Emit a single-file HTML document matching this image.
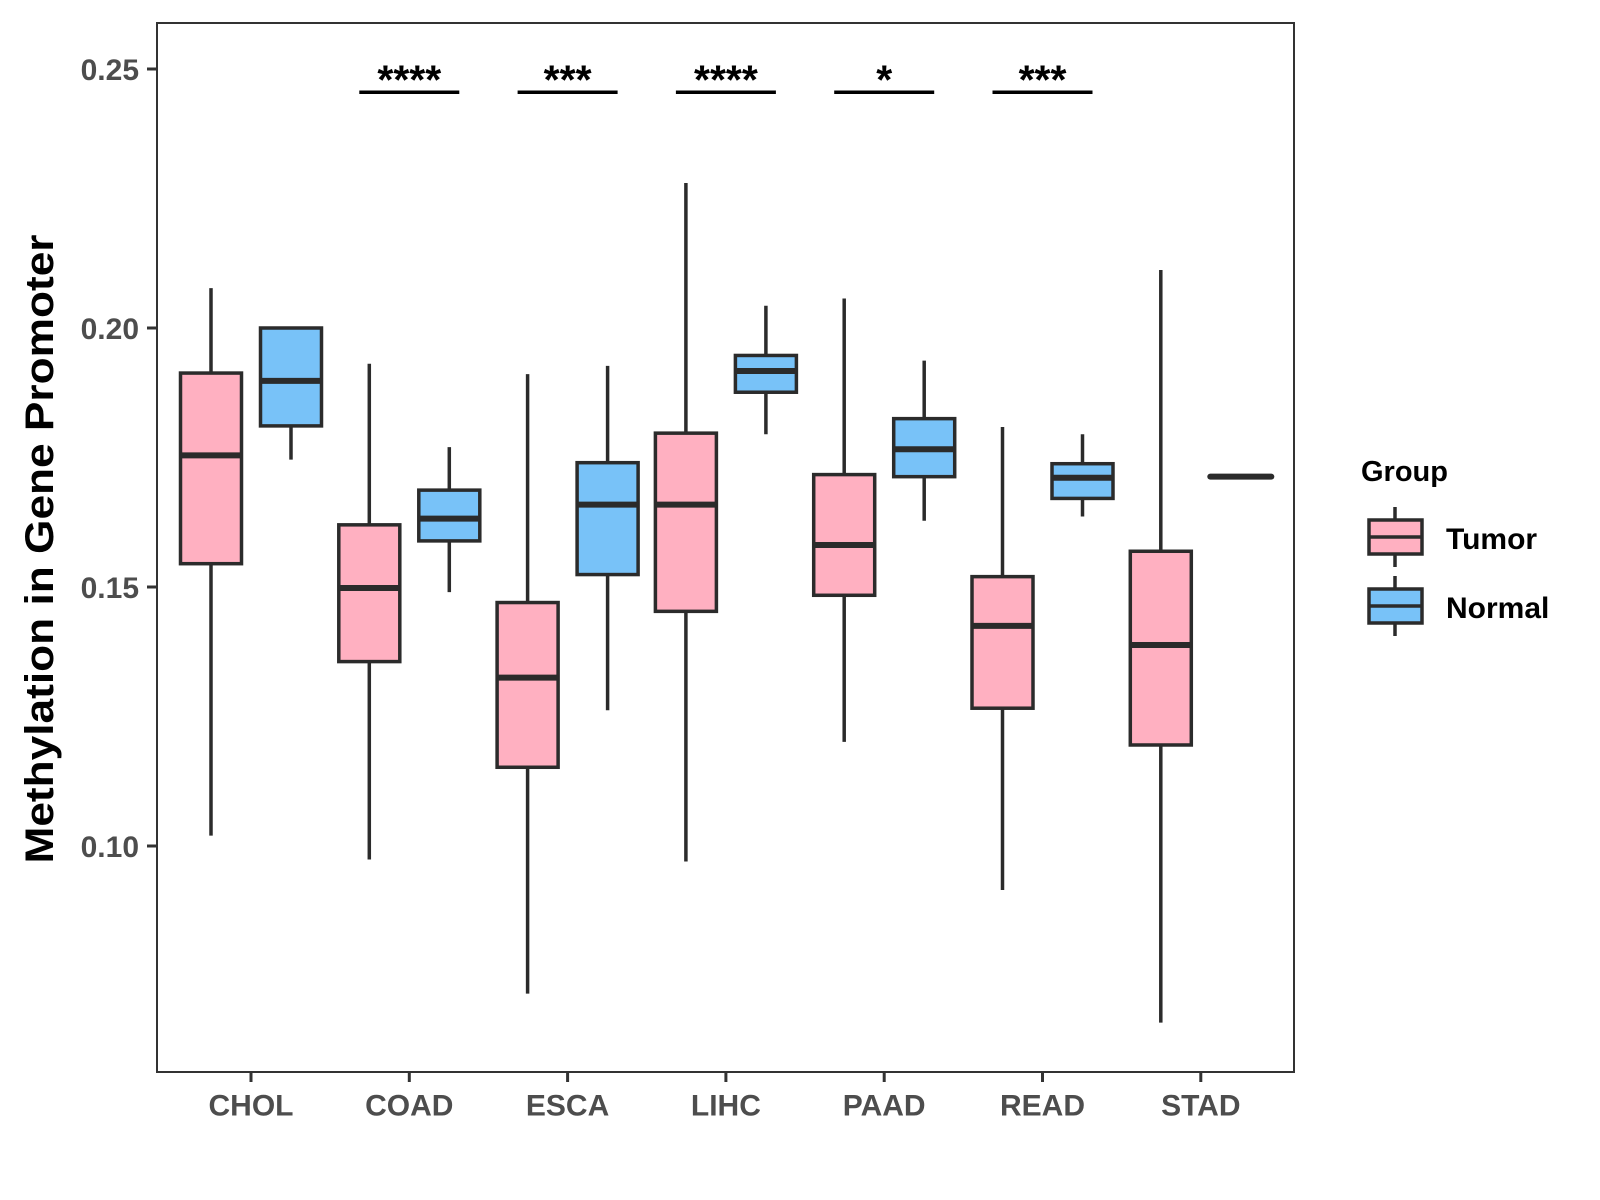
<!DOCTYPE html>
<html><head><meta charset="utf-8"><style>
html,body{margin:0;padding:0;background:#fff;}
svg{display:block;font-family:"Liberation Sans",Arial,sans-serif;font-weight:bold;}
</style></head><body>
<svg id="chart" width="1600" height="1200" viewBox="0 0 1600 1200">
<rect x="157" y="23" width="1137" height="1049" fill="#fff" stroke="#333" stroke-width="2"/>
<g id="marks"></g>
<g id="axes"></g>
<text x="39" y="549" transform="rotate(-90 39 549)" text-anchor="middle" font-size="40" textLength="629" lengthAdjust="spacingAndGlyphs" fill="#000" dy="14">Methylation in Gene Promoter</text>
<g>
<text x="1361" y="481" font-size="29" fill="#000">Group</text>
<g>
<line x1="1395" y1="507" x2="1395" y2="567" stroke="#2b2b2b" stroke-width="3.5"/>
<rect x="1369" y="520" width="53" height="34" fill="#FFB0C1" stroke="#2b2b2b" stroke-width="3.5"/>
<line x1="1369" y1="537" x2="1422" y2="537" stroke="#2b2b2b" stroke-width="3.5"/>
<text x="1446" y="549" font-size="30" fill="#000">Tumor</text>
</g>
<g>
<line x1="1395" y1="576" x2="1395" y2="636" stroke="#2b2b2b" stroke-width="3.5"/>
<rect x="1369" y="589" width="53" height="34" fill="#78C2F8" stroke="#2b2b2b" stroke-width="3.5"/>
<line x1="1369" y1="606" x2="1422" y2="606" stroke="#2b2b2b" stroke-width="3.5"/>
<text x="1446" y="618" font-size="30" fill="#000">Normal</text>
</g>
</g>
</svg>
<script>
const categories=["CHOL","COAD","ESCA","LIHC","PAAD","READ","STAD"];
// [low, q1, median, q3, high]
const tumorStats=[
[0.1020,0.1545,0.1754,0.1913,0.2077],
[0.0974,0.1356,0.1498,0.1620,0.1931],
[0.0715,0.1152,0.1325,0.1470,0.1911],
[0.0970,0.1453,0.1659,0.1797,0.2280],
[0.1201,0.1484,0.1581,0.1717,0.2057],
[0.0915,0.1266,0.1425,0.1520,0.1809],
[0.0659,0.1195,0.1388,0.1569,0.2112]];
const normalStats=[
[0.1746,0.1811,0.1898,0.2000,0.2002],
[0.1490,0.1589,0.1632,0.1687,0.1770],
[0.1262,0.1524,0.1659,0.1740,0.1927],
[0.1795,0.1876,0.1917,0.1947,0.2043],
[0.1628,0.1713,0.1766,0.1825,0.1937],
[0.1636,0.1671,0.1711,0.1738,0.1795],
[0.1713,0.1713,0.1713,0.1713,0.1713]];
const sigLabels=["","****","***","****","*","***",""];
const sigLevel=0.2455;
const yTicks=[0.10,0.15,0.20,0.25];
const yTickLabels=["0.10","0.15","0.20","0.25"];

const NS="http://www.w3.org/2000/svg";
function y(v){return 69+(0.25-v)*5180;}
function x(i){return 251+i*158.3;}
function mk(tag,attrs,parent){const e=document.createElementNS(NS,tag);for(const k in attrs)e.setAttribute(k,attrs[k]);parent.appendChild(e);return e;}
const marks=document.getElementById('marks'),axes=document.getElementById('axes');
const col="#2b2b2b",bw=61;
function drawBox(s,cx,fill,name){
  const g=mk('g',{},marks);
  
  
  mk('line',{x1:cx,x2:cx,y1:y(s[4]),y2:y(s[0]),stroke:col,'stroke-width':3.5},g);
  const h=Math.max(y(s[1])-y(s[3]),0);
  if(h>0.5) mk('rect',{x:cx-bw/2,y:y(s[3]),width:bw,height:h,fill:fill,stroke:col,'stroke-width':3.5},g);
  mk('line',{x1:cx-bw/2,x2:cx+bw/2,y1:y(s[2]),y2:y(s[2]),stroke:col,'stroke-width':6,'stroke-linecap':h>0.5?'butt':'round'},g);
}
categories.forEach((c,i)=>{
  drawBox(tumorStats[i],x(i)-40,"#FFB0C1",'box-tumor-'+c.toLowerCase());
  drawBox(normalStats[i],x(i)+40,"#78C2F8",'box-normal-'+c.toLowerCase());
  const t=mk('line',{x1:x(i),x2:x(i),y1:1072,y2:1082,stroke:'#333','stroke-width':3},axes);
  
  
  const l=mk('text',{x:x(i),y:1094,'text-anchor':'middle','font-size':30,fill:'#4d4d4d'},axes);
  
  
  l.textContent=c;
  l.setAttribute('dy','0.72em');
  if(sigLabels[i]){
    const b=mk('line',{x1:x(i)-50,x2:x(i)+50,y1:y(sigLevel),y2:y(sigLevel),stroke:'#000','stroke-width':3.5},marks);
    
    
    const s=mk('text',{x:x(i),y:y(sigLevel)+1,'text-anchor':'middle','font-size':41,fill:'#000'},marks);
    
    
    s.textContent=sigLabels[i];
  }
});
yTicks.forEach((v,i)=>{
  const t=mk('line',{x1:147,x2:157,y1:y(v),y2:y(v),stroke:'#333','stroke-width':3},axes);
  
  
  const l=mk('text',{x:139,y:y(v)+11,'text-anchor':'end','font-size':30,fill:'#4d4d4d'},axes);
  
  
  l.textContent=yTickLabels[i];
});
</script>
</body></html>
